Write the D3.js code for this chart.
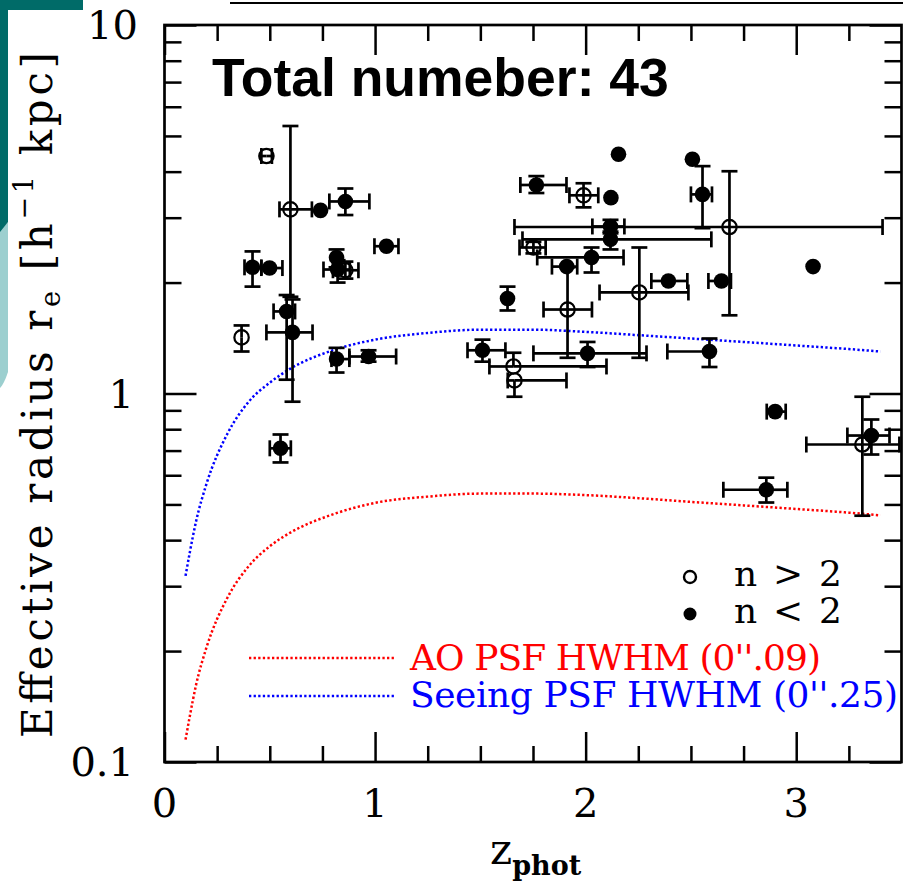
<!DOCTYPE html>
<html><head><meta charset="utf-8">
<script src="https://cdn.jsdelivr.net/npm/d3@7"></script>
<style>body{margin:0;background:#fff}svg{display:block}</style>
</head><body>
<svg id="c" width="903" height="884"></svg>
<script>
// ---- data ----
const xMajor = [0, 1, 2, 3];
const xMinor = [0.25, 0.5, 0.75, 1.25, 1.5, 1.75, 2.25, 2.5, 2.75, 3.25];
const xTickLabels = ["0", "1", "2", "3"];
const yMajor = [0.1, 1, 10];
const yMinor = [0.2,0.3,0.4,0.5,0.6,0.7,0.8,0.9,2,3,4,5,6,7,8,9];
const yTickLabels = ["0.1", "1", "10"];

// galaxy type: "o" = n > 2 (open), "f" = n < 2 (filled)
const nType = ["o","o","f","f","f","f","f","f","o","f","f","f","o","f","f","f","f","f","o","f","f","f","o","f","f","o","f","o","f","f","o","f","f","f","f","o","o","f","f","f","f","o","f"];
const zPhot = [0.484,0.598,0.741,0.859,0.418,0.499,0.817,0.822,0.859,1.054,0.58,0.608,0.366,0.817,0.969,0.551,2.156,1.766,1.99,2.12,2.118,2.118,1.752,2.028,1.91,1.914,1.629,2.255,2.393,2.645,2.683,2.555,2.507,3.08,1.51,1.657,1.662,2.009,2.588,2.90,2.858,3.314,3.357];
const rEff  = [4.41,3.16,3.14,3.32,2.20,2.19,2.34,2.17,2.16,2.51,1.67,1.465,1.42,1.24,1.26,0.71,4.46,3.68,3.45,3.40,2.84,2.62,2.49,2.34,2.21,1.69,1.81,1.88,2.02,2.02,2.83,3.47,4.32,2.21,1.31,1.184,1.085,1.285,1.30,0.893,0.548,0.727,0.769];
const zLo = [0.46,0.546,null,0.783,0.38,0.46,null,0.755,0.80,0.997,0.518,0.484,null,0.793,0.878,0.50,null,1.69,1.923,null,2.032,1.70,1.686,1.77,1.84,1.80,null,2.066,2.312,2.583,1.662,2.50,null,null,1.439,1.543,1.63,1.752,2.388,2.86,2.654,3.048,3.243];
const zHi = [0.51,0.70,null,0.973,0.46,0.56,null,0.88,0.921,1.111,0.62,0.703,null,0.878,1.10,0.60,null,1.909,2.06,null,2.184,2.597,1.81,2.18,1.96,2.03,null,2.488,2.483,2.69,3.41,2.60,null,null,1.619,2.099,1.909,2.289,null,2.95,2.958,3.49,3.443];
const rLo = [null,1.83,null,3.05,1.95,null,2.20,2.0,2.05,null,1.09,0.95,1.30,1.14,1.22,0.65,null,3.50,3.20,null,2.72,2.46,2.40,2.13,null,1.25,1.68,1.25,null,null,1.63,2.81,null,null,1.22,null,0.98,1.18,1.18,null,0.506,0.466,0.683];
const rHi = [null,5.32,null,3.60,2.43,null,2.46,2.30,2.28,null,1.85,1.80,1.53,1.33,1.31,0.774,null,3.89,3.72,null,2.96,2.75,2.58,2.49,null,2.20,1.95,2.49,null,null,4.01,4.14,null,null,1.40,1.29,null,1.38,1.41,null,0.591,0.98,0.85];

// PSF HWHM curves
const zCurve = [0.1,0.12,0.15,0.2,0.3,0.4,0.5,0.6,0.8,1.0,1.25,1.5,1.75,2.0,2.25,2.5,2.75,3.0,3.25,3.4];
const seeingHWHM = [0.32,0.37,0.45,0.57,0.78,0.95,1.07,1.17,1.31,1.40,1.46,1.49,1.49,1.47,1.44,1.41,1.38,1.35,1.32,1.30];
const aoHWHM = [0.115,0.133,0.162,0.205,0.28,0.34,0.385,0.42,0.47,0.505,0.525,0.535,0.535,0.53,0.52,0.508,0.497,0.486,0.475,0.467];

const titleText = "Total numeber: 43";
const legendAO = "AO PSF HWHM (0''.09)";
const legendSeeing = "Seeing PSF HWHM (0''.25)";

// ---- drawing ----
const svg = d3.select("#c");
const L = 164.5, R = 901.5, T = 25, B = 762;
const x = d3.scaleLinear().domain([0, 3.5]).range([L, R]);
const y = d3.scaleLog().domain([0.1, 10]).range([B, T]);
const serif = "DejaVu Serif";

// slide decorations
const teal = "#006b68", lteal = "#9ccfcf";
svg.append("path").attr("d","M0,230 L8,222 L8,372 Q4,384 0,388 Z").attr("fill", lteal);
svg.append("path").attr("d","M0,0 L83,0 L83,10 L8,10 L8,222 L0,232 Z").attr("fill", teal);
svg.append("line").attr("x1",230).attr("x2",903).attr("y1",3).attr("y2",3).attr("stroke","#000").attr("stroke-width",2);

// axes ticks
const tickStyle = g => { g.select(".domain").remove(); g.selectAll("line").attr("stroke","#000").attr("stroke-width",2.5); };
svg.append("g").attr("transform",`translate(0,${B})`).call(d3.axisBottom(x).tickValues(xMajor).tickSize(-30).tickFormat("")).call(tickStyle);
svg.append("g").attr("transform",`translate(0,${B})`).call(d3.axisBottom(x).tickValues(xMinor).tickSize(-16).tickFormat("")).call(tickStyle);
svg.append("g").attr("transform",`translate(0,${T})`).call(d3.axisTop(x).tickValues(xMajor).tickSize(-30).tickFormat("")).call(tickStyle);
svg.append("g").attr("transform",`translate(0,${T})`).call(d3.axisTop(x).tickValues(xMinor).tickSize(-16).tickFormat("")).call(tickStyle);
svg.append("g").attr("transform",`translate(${L},0)`).call(d3.axisLeft(y).tickValues(yMajor).tickSize(-32).tickFormat("")).call(tickStyle);
svg.append("g").attr("transform",`translate(${L},0)`).call(d3.axisLeft(y).tickValues(yMinor).tickSize(-17).tickFormat("")).call(tickStyle);
svg.append("g").attr("transform",`translate(${R},0)`).call(d3.axisRight(y).tickValues(yMajor).tickSize(-32).tickFormat("")).call(tickStyle);
svg.append("g").attr("transform",`translate(${R},0)`).call(d3.axisRight(y).tickValues(yMinor).tickSize(-17).tickFormat("")).call(tickStyle);
svg.append("rect").attr("x",L).attr("y",T).attr("width",R-L).attr("height",B-T).attr("fill","none").attr("stroke","#000").attr("stroke-width",2.7);

// tick labels
svg.selectAll(".xl").data(xMajor).enter().append("text")
  .attr("x", d => x(d)).attr("y", 817).attr("text-anchor","middle")
  .attr("font-family", serif).attr("font-size", 40).text((d,i) => xTickLabels[i]);
svg.selectAll(".yl").data(yMajor).enter().append("text")
  .attr("x", (d,i) => i === 2 ? 138 : 134).attr("y", d => y(d) + 14).attr("text-anchor","end")
  .attr("font-family", serif).attr("font-size", 40).text((d,i) => yTickLabels[i]);

// axis titles
const yl = svg.append("text").attr("transform","translate(52,395) rotate(-90)")
  .attr("text-anchor","middle").attr("font-family", serif).attr("font-size", 42)
  .attr("textLength", 686).attr("lengthAdjust","spacing");
yl.append("tspan").text("Effective radius r");
yl.append("tspan").attr("font-size", 27).attr("dy", 8).text("e");
yl.append("tspan").attr("dy", -8).text(" [h");
yl.append("tspan").attr("font-size", 27).attr("dy", -19).text("\u22121");
yl.append("tspan").attr("dy", 19).text(" kpc]");

const xl = svg.append("text").attr("x", 490).attr("y", 864).attr("font-family", serif).attr("font-size", 42);
xl.append("tspan").text("z");
xl.append("tspan").attr("font-size", 27).attr("font-weight","bold").attr("dy", 11).text("phot");

// title
svg.append("text").attr("x", 212).attr("y", 96).attr("font-family","Liberation Sans, Arial, sans-serif")
  .attr("font-weight","bold").attr("font-size", 53.5).text(titleText);

// PSF curves
const line = d3.line().x((d,i) => x(zCurve[i])).y(d => y(d)).curve(d3.curveMonotoneX);
svg.append("path").attr("d", line(seeingHWHM)).attr("fill","none").attr("stroke","#0000ff").attr("stroke-width",2.5).attr("stroke-dasharray","2.3 2.3");
svg.append("path").attr("d", line(aoHWHM)).attr("fill","none").attr("stroke","#ff0000").attr("stroke-width",2.5).attr("stroke-dasharray","2.3 2.3");

// error bars
const eb = svg.append("g").attr("stroke","#000").attr("stroke-width",2.7).attr("fill","none");
const cap = 8;
zPhot.forEach((z, i) => {
  const cx = x(z), cy = y(rEff[i]);
  if (zLo[i] != null) { const a = x(zLo[i]); eb.append("line").attr("x1",a).attr("x2",cx).attr("y1",cy).attr("y2",cy); eb.append("line").attr("x1",a).attr("x2",a).attr("y1",cy-cap).attr("y2",cy+cap); }
  if (zHi[i] != null) { const a = x(zHi[i]); eb.append("line").attr("x1",cx).attr("x2",a).attr("y1",cy).attr("y2",cy); eb.append("line").attr("x1",a).attr("x2",a).attr("y1",cy-cap).attr("y2",cy+cap); }
  if (rLo[i] != null) { const a = y(rLo[i]); eb.append("line").attr("x1",cx).attr("x2",cx).attr("y1",cy).attr("y2",a); eb.append("line").attr("x1",cx-cap).attr("x2",cx+cap).attr("y1",a).attr("y2",a); }
  if (rHi[i] != null) { const a = y(rHi[i]); eb.append("line").attr("x1",cx).attr("x2",cx).attr("y1",cy).attr("y2",a); eb.append("line").attr("x1",cx-cap).attr("x2",cx+cap).attr("y1",a).attr("y2",a); }
});

// markers
svg.append("g").selectAll("circle").data(zPhot).enter().append("circle")
  .attr("cx", d => x(d)).attr("cy", (d,i) => y(rEff[i])).attr("r", (d,i) => nType[i] === "o" ? 7.2 : 7.8)
  .attr("fill", (d,i) => nType[i] === "o" ? "none" : "#000")
  .attr("stroke", "#000").attr("stroke-width", (d,i) => nType[i] === "o" ? 2.2 : 0);

// legend
svg.append("circle").attr("cx",690).attr("cy",577).attr("r",6).attr("fill","none").attr("stroke","#000").attr("stroke-width",2.4);
svg.append("circle").attr("cx",690).attr("cy",614).attr("r",6.5).attr("fill","#000");
svg.append("text").attr("x",734).attr("y",586).attr("font-family",serif).attr("font-size",36).attr("textLength",108).attr("lengthAdjust","spacing").text("n > 2");
svg.append("text").attr("x",734).attr("y",623).attr("font-family",serif).attr("font-size",36).attr("textLength",108).attr("lengthAdjust","spacing").text("n < 2");
svg.append("line").attr("x1",249).attr("x2",395).attr("y1",658).attr("y2",658).attr("stroke","#ff0000").attr("stroke-width",2.5).attr("stroke-dasharray","2.3 2.3");
svg.append("line").attr("x1",249).attr("x2",395).attr("y1",696).attr("y2",696).attr("stroke","#0000ff").attr("stroke-width",2.5).attr("stroke-dasharray","2.3 2.3");
svg.append("text").attr("x",410).attr("y",670).attr("fill","#ff0000").attr("font-family",serif).attr("font-size",36).attr("textLength",411).attr("lengthAdjust","spacing").text(legendAO);
svg.append("text").attr("x",410).attr("y",707).attr("fill","#0000ff").attr("font-family",serif).attr("font-size",36).attr("textLength",488).attr("lengthAdjust","spacing").text(legendSeeing);
</script>
</body></html>
